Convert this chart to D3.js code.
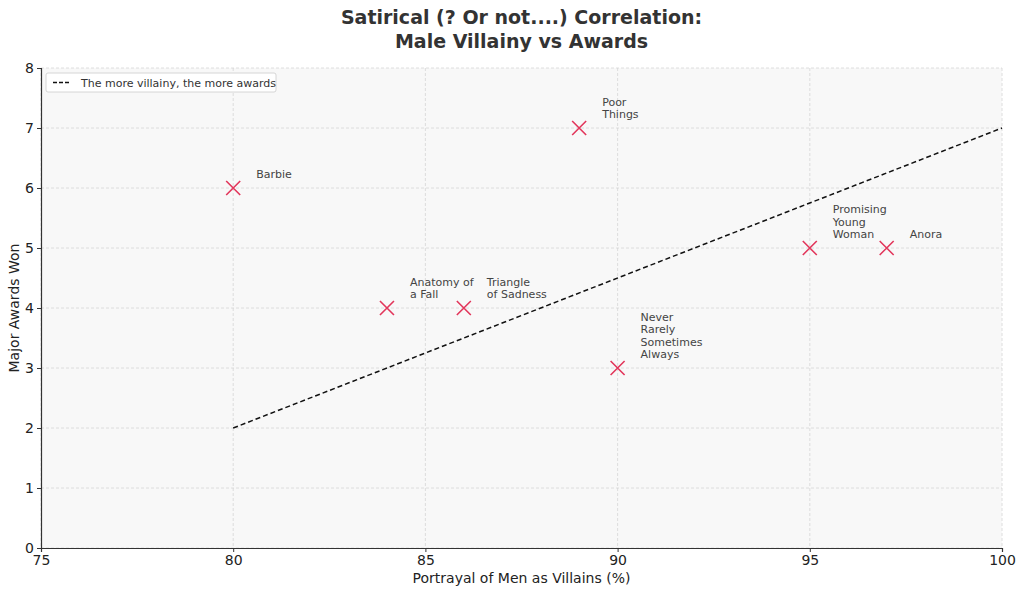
<!DOCTYPE html>
<meta charset="utf-8" />
<script src="https://d3js.org/d3.v7.min.js"></script>
<div id="chart"></div>
<script>
  // data
  const films = ["Barbie", "Anatomy of\na Fall", "Triangle\nof Sadness", "Poor\nThings",
    "Never\nRarely\nSometimes\nAlways", "Promising\nYoung\nWoman", "Anora"];
  const villainy = [80, 84, 86, 89, 90, 95, 97];
  const awards = [6, 4, 4, 7, 3, 5, 5];
  const trendX = [80, 100];
  const trendY = [2, 7];
  const xTicks = [75, 80, 85, 90, 95, 100];
  const yTicks = [0, 1, 2, 3, 4, 5, 6, 7, 8];

  const margin = { top: 68, right: 22, bottom: 46, left: 41 },
    width = 1024 - margin.left - margin.right,
    height = 594 - margin.top - margin.bottom;

  const svg = d3.select("#chart")
    .append("svg")
    .attr("width", 1024)
    .attr("height", 594)
    .style("font-family", "DejaVu Sans")
    .append("g")
    .attr("transform", `translate(${margin.left}, ${margin.top})`);

  const x = d3.scaleLinear().domain([75, 100]).range([0, width]);
  const y = d3.scaleLinear().domain([0, 8]).range([height, 0]);

  // plot background
  svg.append("rect")
    .attr("width", width)
    .attr("height", height)
    .style("fill", "#f8f8f8");

  // grid
  svg.append("g")
    .selectAll("line")
    .data(xTicks)
    .join("line")
    .attr("x1", d => x(d)).attr("x2", d => x(d))
    .attr("y1", 0).attr("y2", height)
    .style("stroke", "#d6d6d6")
    .style("stroke-dasharray", "3,2")
    .style("stroke-width", 0.8);
  svg.append("g")
    .selectAll("line")
    .data(yTicks)
    .join("line")
    .attr("x1", 0).attr("x2", width)
    .attr("y1", d => y(d)).attr("y2", d => y(d))
    .style("stroke", "#d6d6d6")
    .style("stroke-dasharray", "3,2")
    .style("stroke-width", 0.8);

  // axes
  const xAxis = svg.append("g")
    .attr("transform", `translate(0, ${height})`)
    .call(d3.axisBottom(x).tickValues(xTicks).tickSize(4).tickPadding(3));
  const yAxis = svg.append("g")
    .call(d3.axisLeft(y).tickValues(yTicks).tickSize(4).tickPadding(3));
  [xAxis, yAxis].forEach(a => {
    a.select(".domain").style("stroke", "#333").style("stroke-width", 1.2);
    a.selectAll(".tick line").style("stroke", "#333");
    a.selectAll("text").style("font-size", "14px").style("fill", "#222")
      .style("font-family", "DejaVu Sans");
  });

  // trend line
  svg.append("line")
    .attr("x1", x(trendX[0])).attr("y1", y(trendY[0]))
    .attr("x2", x(trendX[1])).attr("y2", y(trendY[1]))
    .style("stroke", "#111")
    .style("stroke-width", 1.5)
    .style("stroke-dasharray", "5,3");

  // markers
  const pts = films.map((f, i) => ({ name: f, vx: villainy[i], vy: awards[i] }));
  const s = 7;
  const marks = svg.append("g").selectAll("g")
    .data(pts)
    .join("g")
    .attr("transform", d => `translate(${x(d.vx)}, ${y(d.vy)})`);
  marks.append("path")
    .attr("d", `M${-s},${-s}L${s},${s}M${-s},${s}L${s},${-s}`)
    .style("stroke", "#e2365b")
    .style("stroke-width", 1.6)
    .style("fill", "none");

  // annotations, last line sits just above-right of the point
  marks.each(function (d) {
    const lines = d.name.split("\n");
    const t = d3.select(this).append("text")
      .style("font-size", "11px")
      .style("fill", "#444");
    lines.forEach((l, j) => {
      t.append("tspan")
        .attr("x", 23)
        .attr("y", -10 - (lines.length - 1 - j) * 12.3)
        .text(l);
    });
  });

  // legend
  const leg = svg.append("g").attr("transform", "translate(5, 5)");
  leg.append("rect")
    .attr("width", 230).attr("height", 19)
    .attr("rx", 2)
    .style("fill", "white")
    .style("stroke", "#ccc")
    .style("stroke-width", 0.8);
  leg.append("line")
    .attr("x1", 7).attr("x2", 25).attr("y1", 9.5).attr("y2", 9.5)
    .style("stroke", "#111")
    .style("stroke-width", 1.5)
    .style("stroke-dasharray", "4,2");
  leg.append("text")
    .attr("x", 35).attr("y", 13.5)
    .style("font-size", "11px")
    .style("fill", "#333")
    .text("The more villainy, the more awards");

  // axis titles
  svg.append("text")
    .attr("x", width / 2).attr("y", height + 35)
    .attr("text-anchor", "middle")
    .style("font-size", "14px")
    .style("fill", "#222")
    .text("Portrayal of Men as Villains (%)");
  svg.append("text")
    .attr("transform", `translate(-22, ${height / 2}) rotate(-90)`)
    .attr("text-anchor", "middle")
    .style("font-size", "14px")
    .style("fill", "#222")
    .text("Major Awards Won");

  // title
  const title = svg.append("text")
    .attr("x", width / 2)
    .attr("text-anchor", "middle")
    .style("font-size", "19px")
    .style("font-weight", "bold")
    .style("fill", "#333");
  title.append("tspan").attr("x", width / 2).attr("y", -44).text("Satirical (? Or not....) Correlation:");
  title.append("tspan").attr("x", width / 2).attr("y", -20).text("Male Villainy vs Awards");
</script>
<style>
  body { margin: 0; background: white; }
</style>
